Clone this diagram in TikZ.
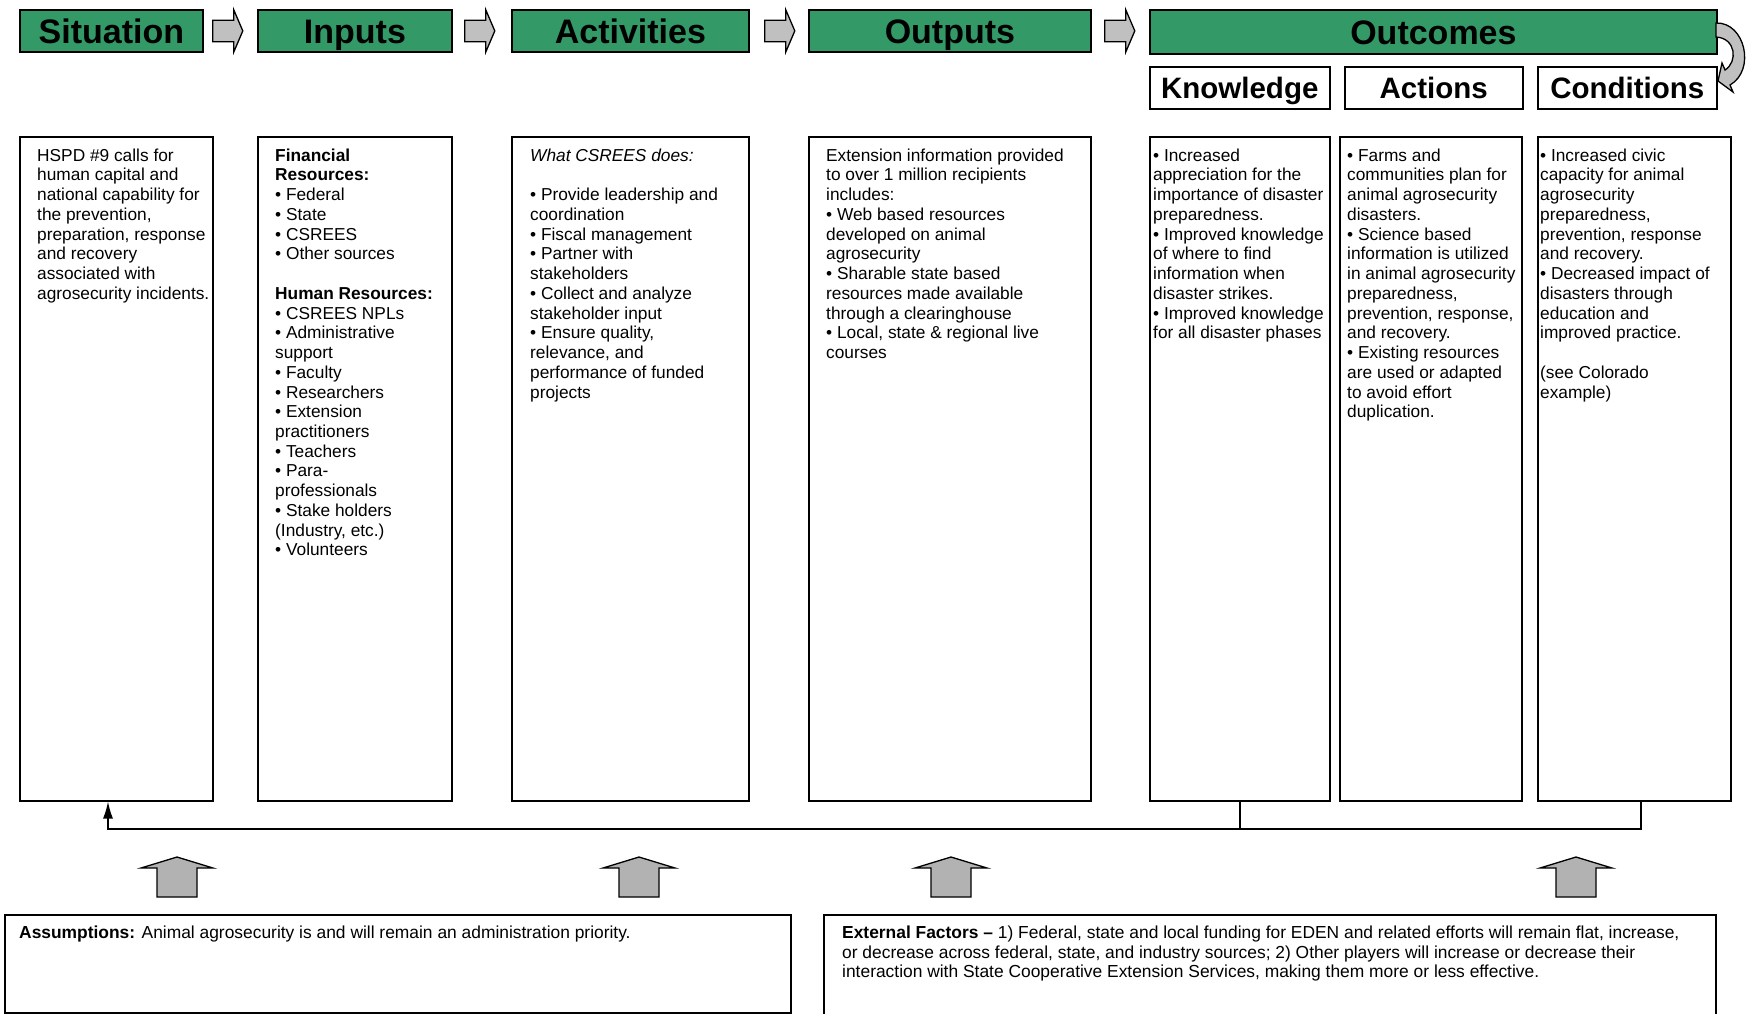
\documentclass[tikz,border=0pt]{standalone}
\usepackage{fontspec}
\setmainfont{Liberation Sans}
\usetikzlibrary{arrows.meta,calc}
\definecolor{hdrgreen}{HTML}{339966}
\definecolor{arrgray}{HTML}{C0C0C0}
\definecolor{uparrgray}{HTML}{B2B2B2}
\begin{document}
\begin{tikzpicture}[x=1pt,y=-1pt,
 hdr/.style={draw=black, line width=1.8pt, fill=hdrgreen, anchor=north west, inner sep=0pt,
   text height=24.5pt, text depth=0pt, font=\fontsize{34pt}{40pt}\selectfont\bfseries},
 subhdr/.style={draw=black, line width=1.5pt, fill=white, anchor=north west, inner sep=0pt,
   text height=21pt, text depth=0pt, font=\fontsize{29.5pt}{34pt}\selectfont\bfseries},
 box/.style={draw=black, line width=1.5pt, anchor=north west, inner sep=0pt},
 txt/.style={anchor=north west, inner sep=0pt, align=left, font=\fontsize{17.3pt}{19.73pt}\selectfont},
 btxt/.style={anchor=north west, inner sep=0pt, align=left, font=\fontsize{17.4pt}{19.5pt}\selectfont},
 rarrow/.pic={\draw[fill=arrgray, line width=1.3pt, line join=miter]
   (0,-10.75) -- (21,-10.75) -- (21,-21) -- (30,0) -- (21,21) -- (21,10.75) -- (0,10.75) -- cycle;},
 uarrow/.pic={\draw[fill=uparrgray, line width=1.3pt, line join=miter]
   (-20,0) -- (-20,-29) -- (-36,-29) -- (0,-40) -- (36,-29) -- (20,-29) -- (20,0) -- cycle;},
 fb/.style={line width=1.5pt}
]
\fill[white] (0,0) rectangle (1748,1013);
\useasboundingbox (0,0) rectangle (1748,1013);

% header row
\node[hdr, minimum width=183pt, minimum height=42pt] (sitH) at (19,9) {Situation};
\node[hdr, minimum width=194pt, minimum height=42pt] (inpH) at (257,9) {Inputs};
\node[hdr, minimum width=237pt, minimum height=42pt] (actH) at (511,9) {Activities};
\node[hdr, minimum width=282pt, minimum height=42pt] (outH) at (808,9) {Outputs};
\node[hdr, minimum width=567pt, minimum height=44pt] (outcH) at (1149,9) {Outcomes};
\node[subhdr, minimum width=180pt, minimum height=42pt] (knowH) at (1149,66) {Knowledge};
\node[subhdr, minimum width=178pt, minimum height=42pt] (actnH) at (1344,66) {Actions};
\node[subhdr, minimum width=179pt, minimum height=42pt] (condH) at (1537,66) {Conditions};

\pic at ($(sitH.east)+(9,0)$) {rarrow};
\pic at ($(inpH.east)+(12,0)$) {rarrow};
\pic at ($(actH.east)+(15,0)$) {rarrow};
\pic at ($(outH.east)+(13,0)$) {rarrow};

% curved arrow from Outcomes to Conditions
\draw[fill=arrgray, line width=1.3pt, line join=miter]
  (1716,23) .. controls (1745,22) and (1756,70) .. (1730,85) -- (1733,92) -- (1718,81)
  -- (1722,63) -- (1725,70) .. controls (1738,62) and (1736,38) .. (1716,37) -- cycle;

% body boxes
\node[box, minimum width=193pt, minimum height=664pt] (sit) at (19,136) {};
\node[box, minimum width=194pt, minimum height=664pt] (inp) at (257,136) {};
\node[box, minimum width=237pt, minimum height=664pt] (act) at (511,136) {};
\node[box, minimum width=282pt, minimum height=664pt] (out) at (808,136) {};
\node[box, minimum width=180pt, minimum height=664pt] (know) at (1149,136) {};
\node[box, minimum width=182pt, minimum height=664pt] (actn) at (1339,136) {};
\node[box, minimum width=193pt, minimum height=664pt] (cond) at (1537,136) {};

% body texts
\node[txt] (sitT) at (37,148.5) {HSPD \#9 calls for\\human capital and\\national capability for\\the prevention,\\preparation, response\\and recovery\\associated with\\agrosecurity incidents.};
\node[txt] (inpT) at (275,148.5) {\textbf{Financial}\\\textbf{Resources:}\\• Federal\\• State\\• CSREES\\• Other sources\\[19.73pt]\textbf{Human Resources:}\\• CSREES NPLs\\• Administrative\\support\\• Faculty\\• Researchers\\• Extension\\practitioners\\• Teachers\\• Para-\\professionals\\• Stake holders\\(Industry, etc.)\\• Volunteers};
\node[txt] (actT) at (530,148.5) {\textit{What CSREES does:}\\[19.73pt]• Provide leadership and\\coordination\\• Fiscal management\\• Partner with\\stakeholders\\• Collect and analyze\\stakeholder input\\• Ensure quality,\\relevance, and\\performance of funded\\projects};
\node[txt] (outT) at (826,148.5) {Extension information provided\\to over 1 million recipients\\includes:\\• Web based resources\\developed on animal\\agrosecurity\\• Sharable state based\\resources made available\\through a clearinghouse\\• Local, state \& regional live\\courses};
\node[txt] (knowT) at (1153,148.5) {• Increased\\appreciation for the\\importance of disaster\\preparedness.\\• Improved knowledge\\of where to find\\information when\\disaster strikes.\\• Improved knowledge\\for all disaster phases};
\node[txt] (actnT) at (1347,148.5) {• Farms and\\communities plan for\\animal agrosecurity\\disasters.\\• Science based\\information is utilized\\in animal agrosecurity\\preparedness,\\prevention, response,\\and recovery.\\• Existing resources\\are used or adapted\\to avoid effort\\duplication.};
\node[txt] (condT) at (1540,148.5) {• Increased civic\\capacity for animal\\agrosecurity\\preparedness,\\prevention, response\\and recovery.\\• Decreased impact of\\disasters through\\education and\\improved practice.\\[19.73pt](see Colorado\\example)};

% feedback connector
\coordinate (fbL) at (108,829);
\coordinate (fbR) at (1641,829);
\draw[fb] (know.south) -- (know.south |- fbL);
\draw[fb] ($(actn.south)+(-12,0)$) -- ($(actn.south)+(-12,0)$ |- fbL);
\draw[fb, -{Latex[length=17pt,width=10pt]}] (fbR |- cond.south) -- (fbR) -- (fbL) -- (fbL |- sit.south);

% up arrows
\pic at (177,897) {uarrow};
\pic at (639,897) {uarrow};
\pic at (951,897) {uarrow};
\pic at (1576,897) {uarrow};

% bottom boxes
\node[box, minimum width=786pt, minimum height=98pt] (assum) at (4,914) {};
\node[box, minimum width=892pt, minimum height=104pt] (ext) at (823,914) {};
\node[btxt] (assumT) at (19,926) {\textbf{Assumptions:} Animal agrosecurity is and will remain an administration priority.};
\node[btxt] (extT) at (842,926) {\textbf{External Factors –} 1) Federal, state and local funding for EDEN and related efforts will remain flat, increase,\\or decrease across federal, state, and industry sources; 2) Other players will increase or decrease their\\interaction with State Cooperative Extension Services, making them more or less effective.};
\end{tikzpicture}
\end{document}
